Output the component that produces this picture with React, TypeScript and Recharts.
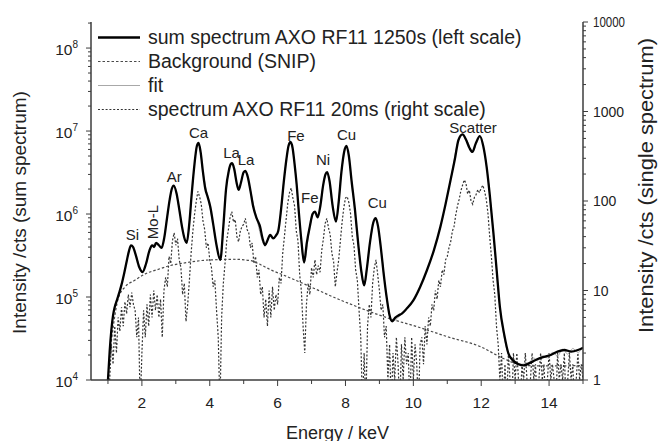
import React from 'react';
import { LineChart, Line, XAxis, YAxis, ReferenceDot } from 'recharts';

const FONT = '"Liberation Sans", Arial, Helvetica, sans-serif';
const INK = '#222';
const AX = '#3c3c3c';

// ---- sum spectrum AXO RF11 1250s (left scale) ----
const SUM_E = [1.00,1.05,1.10,1.15,1.20,1.27,1.33,1.40,1.48,1.56,1.62,1.68,1.74,1.82,1.92,
  2.02,2.12,2.22,2.30,2.36,2.42,2.50,2.58,2.66,2.74,2.82,2.88,2.94,
  3.02,3.10,3.18,3.26,3.32,3.40,3.47,3.55,3.62,3.67,3.73,3.80,3.87,3.94,
  4.02,4.10,4.20,4.31,4.40,4.48,4.56,4.62,4.66,4.72,4.79,4.85,4.92,
  5.00,5.05,5.12,5.20,5.28,5.38,5.48,5.56,5.63,5.70,5.78,5.87,5.95,
  6.02,6.10,6.18,6.26,6.32,6.38,6.44,6.50,6.56,6.63,6.70,6.78,6.86,6.95,
  7.03,7.10,7.18,7.26,7.34,7.41,7.46,7.53,7.62,7.72,7.80,7.88,7.96,
  8.03,8.10,8.18,8.28,8.38,8.47,8.55,8.63,8.72,8.82,8.89,8.96,
  9.04,9.12,9.22,9.30,9.38,9.46,9.56,9.66,9.80,
  10.00,10.20,10.40,10.60,10.80,10.95,
  11.10,11.22,11.33,11.45,11.55,11.65,11.74,11.84,11.96,
  12.06,12.16,12.26,12.36,12.46,12.55,12.68,12.80,12.95,
  13.10,13.25,13.45,13.65,13.85,14.05,14.25,14.45,14.65,14.85,15.00];
const SUM_V = [1.0e4,2.2e4,4.0e4,6.0e4,7.6e4,9.3e4,1.12e5,1.41e5,1.95e5,2.8e5,3.6e5,4.2e5,4.0e5,3.2e5,2.3e5,
  2.0e5,2.5e5,3.6e5,4.2e5,4.0e5,4.5e5,4.2e5,3.9e5,5.2e5,8.9e5,1.5e6,2.0e6,2.2e6,
  1.78e6,1.15e6,7.1e5,5.0e5,4.5e5,7.9e5,1.78e6,4.0e6,6.6e6,7.2e6,5.6e6,3.2e6,2.0e6,1.6e6,
  1.2e6,7.6e5,4.2e5,2.8e5,7.1e5,2.0e6,3.3e6,4.0e6,4.1e6,3.5e6,2.4e6,1.95e6,2.4e6,
  3.2e6,3.3e6,2.8e6,1.9e6,1.23e6,8.9e5,7.1e5,5.0e5,4.2e5,4.8e5,5.6e5,5.1e5,5.5e5,
  6.3e5,1.12e6,2.4e6,4.6e6,6.6e6,7.4e6,6.3e6,4.0e6,2.3e6,1.0e6,4.8e5,2.6e5,4.5e5,7.1e5,
  1.0e6,1.07e6,9.1e5,1.26e6,2.2e6,3.0e6,3.2e6,2.5e6,1.26e6,8.1e5,1.4e6,3.2e6,5.6e6,
  6.6e6,5.0e6,2.5e6,1.12e6,4.2e5,2.0e5,1.38e5,2.2e5,4.5e5,7.9e5,8.9e5,7.1e5,
  4.0e5,2.0e5,9.5e4,6.0e4,5.1e4,5.6e4,6.0e4,6.3e4,7.2e4,
  9.1e4,1.32e5,2.1e5,3.6e5,7.1e5,1.32e6,
  2.6e6,4.5e6,7.8e6,9.1e6,7.9e6,6.3e6,5.6e6,7.1e6,8.7e6,
  6.6e6,3.7e6,1.58e6,5.9e5,2.0e5,7.6e4,3.5e4,2.1e4,1.7e4,
  1.55e4,1.5e4,1.62e4,1.78e4,1.9e4,2.0e4,2.2e4,2.3e4,2.2e4,2.3e4,2.45e4];

// ---- fit (left scale) ----
const FIT_E = [1.00,1.10,1.20,1.33,1.48,1.62,1.68,1.82,2.02,2.22,2.42,2.58,2.74,2.88,2.94,
  3.10,3.26,3.32,3.47,3.62,3.67,3.80,3.94,4.10,4.31,4.48,4.62,4.66,4.79,4.85,
  5.00,5.05,5.20,5.38,5.63,5.78,5.87,6.02,6.18,6.32,6.38,6.50,6.63,6.78,6.95,
  7.10,7.18,7.34,7.46,7.62,7.72,7.88,8.03,8.18,8.38,8.55,8.72,8.89,
  9.04,9.22,9.38,9.66,10.00,10.40,10.80,11.10,11.33,11.45,11.60,11.74,11.96,
  12.16,12.36,12.55,12.80,13.00,13.20,13.40,13.55,13.65,13.80,13.95,
  14.10,14.25,14.40,14.55,14.70,14.85,15.00];
const FIT_V = [1.0e4,4.0e4,7.6e4,1.12e5,1.95e5,3.6e5,4.2e5,3.2e5,2.0e5,3.6e5,4.5e5,3.9e5,8.9e5,2.0e6,2.2e6,
  1.15e6,5.0e5,4.5e5,1.78e6,6.6e6,7.2e6,3.2e6,1.6e6,7.6e5,2.8e5,2.0e6,4.0e6,4.1e6,2.4e6,1.95e6,
  3.2e6,3.3e6,1.9e6,8.9e5,4.2e5,5.6e5,5.1e5,6.3e5,2.4e6,6.6e6,7.4e6,4.0e6,1.0e6,2.6e5,7.1e5,
  1.07e6,9.1e5,2.2e6,3.2e6,1.26e6,8.1e5,3.2e6,6.6e6,2.5e6,4.2e5,1.38e5,4.5e5,8.9e5,
  4.0e5,9.5e4,5.1e4,6.3e4,9.1e4,2.1e5,7.1e5,2.6e6,7.8e6,9.1e6,7.4e6,5.6e6,8.7e6,
  3.7e6,5.9e5,7.6e4,2.1e4,1.68e4,1.55e4,1.6e4,1.85e4,1.7e4,1.95e4,1.85e4,
  2.15e4,1.95e4,2.35e4,2.05e4,2.4e4,2.15e4,2.5e4];

// ---- Background (SNIP) (left scale) ----
const BG_E = [1.05,1.30,1.50,1.78,2.10,2.46,2.85,3.25,3.75,4.23,4.70,5.19,5.50,5.78,6.20,6.66,
  7.15,7.64,8.12,8.62,9.30,10.10,11.03,12.00,12.60,13.10,13.60,14.30,15.00];
const BG_V = [2.0e4,9.5e4,1.32e5,1.58e5,1.9e5,2.14e5,2.4e5,2.57e5,2.75e5,2.82e5,2.85e5,2.75e5,2.45e5,
  2.14e5,1.82e5,1.51e5,1.23e5,1.0e5,8.3e4,6.9e4,5.5e4,4.4e4,3.3e4,2.5e4,1.86e4,1.55e4,1.48e4,1.48e4,1.5e4];

// ---- spectrum AXO RF11 20ms (right scale), channels of 0.05 keV from 1.00 keV ----
// (0.5 = empty channel, drawn below the axis floor)
const SINGLE_START_KEV = 1.0;
const SINGLE_CHANNEL_KEV = 0.05;
const SINGLE_V = [
  0.5, 1, 2.5, 1.5, 4, 2, 5, 3.5, 6.5, 4, 7.5, 5.5, 9, 6.5, 9.5, 7, 6, 3, 5, 0.5,
  2, 6, 3, 7, 4, 9, 5, 10, 6, 9, 5, 8, 3, 10, 14, 11, 24, 20, 36, 44,
  32, 38, 22, 18, 9, 12, 4.5, 7, 13, 26, 45, 70, 98, 128, 112, 92, 60, 48, 30, 34,
  22, 18, 11, 13, 6, 3, 0.5, 5, 12, 20, 36, 48, 66, 76, 58, 62, 40, 35, 46, 52,
  55, 64, 48, 44, 30, 34, 20, 24, 14, 17, 9, 11, 5, 8, 4, 10, 5, 11, 6, 9,
  7, 14, 12, 26, 40, 62, 95, 124, 140, 108, 88, 46, 36, 15, 10, 4, 2, 7, 12, 9,
  18, 14, 22, 15, 19, 16, 28, 38, 56, 64, 50, 42, 26, 21, 11, 16, 22, 36, 58, 84,
  108, 112, 96, 72, 40, 32, 17, 13, 6, 3, 0.5, 2, 0.5, 4, 7, 5, 12, 18, 22, 15,
  10, 6, 7, 3, 4, 1, 2.5, 0.5, 2, 1, 3, 1.5, 0.5, 2.5, 1, 3, 1.5, 2, 0.5, 3,
  1, 2.5, 1.5, 0.5, 2.5, 3, 1.5, 4, 2.5, 5, 4, 7, 6, 10, 8, 13, 11, 17, 15, 22,
  24, 30, 35, 46, 52, 70, 88, 104, 130, 150, 172, 158, 120, 132, 100, 92, 110, 118, 134, 124,
  140, 150, 128, 104, 72, 40, 24, 13, 9, 4, 2.5, 1, 2, 0.5, 1.5, 0.5, 2, 1, 0.5, 2,
  1, 2, 1, 0.5, 1.5, 1, 2, 1, 0.5, 1, 2, 1, 1.5, 0.5, 1, 2, 1, 1.5, 0.5, 1,
  2, 1, 1.5, 1, 0.5, 2, 1, 1.5, 1, 2, 0.5, 1, 2, 1, 1.5, 0.5, 1, 2, 1, 1.5,
  1,
];

// ---- peak annotations (energy keV, left-scale intensity) ----
const PEAK_TEXT = ['Si', 'Mo-L', 'Ar', 'Ca', 'La', 'La', 'Fe', 'Fe', 'Ni', 'Cu', 'Cu', 'Scatter'];
const PEAK_E = [1.72, 2.30, 2.95, 3.67, 4.64, 5.07, 6.54, 6.95, 7.34, 8.03, 8.94, 11.76];
const PEAK_V = [5.74e5, 8.0e5, 2.87e6, 9.73e6, 5.58e6, 4.48e6, 8.95e6, 1.56e6, 4.6e6, 9.2e6, 1.36e6, 1.10e7];
const PEAK_VERTICAL = ['Mo-L'];

// ---- axes ----
const X_DOMAIN = [0.5, 15];
const X_TICKS = [1, 2, 3, 4, 5, 6, 7, 8, 9, 10, 11, 12, 13, 14, 15];
const LEFT_DOMAIN = [1e4, 2.06e8];
const LEFT_TICKS = [1e4, 2e4, 3e4, 4e4, 5e4, 6e4, 7e4, 8e4, 9e4,
  1e5, 2e5, 3e5, 4e5, 5e5, 6e5, 7e5, 8e5, 9e5,
  1e6, 2e6, 3e6, 4e6, 5e6, 6e6, 7e6, 8e6, 9e6,
  1e7, 2e7, 3e7, 4e7, 5e7, 6e7, 7e7, 8e7, 9e7, 1e8, 2e8];
const RIGHT_DOMAIN = [1, 10000];
const RIGHT_TICKS = [1, 2, 3, 4, 5, 6, 7, 8, 9, 10, 20, 30, 40, 50, 60, 70, 80, 90,
  100, 200, 300, 400, 500, 600, 700, 800, 900, 1000, 2000, 3000, 4000, 5000, 6000, 7000, 8000, 9000, 10000];

const SERIES = {
  sum: { name: 'sum spectrum AXO RF11 1250s (left scale)', stroke: '#000', width: 2.3, dash: undefined as string | undefined },
  bg: { name: 'Background (SNIP)', stroke: '#4a4a4a', width: 1.2, dash: '2.5 2' },
  fit: { name: 'fit', stroke: '#a8a8a8', width: 1, dash: undefined as string | undefined },
  single: { name: 'spectrum AXO RF11 20ms (right scale)', stroke: '#333', width: 1.2, dash: '2 1.8' },
};
const LEGEND_ORDER: (keyof typeof SERIES)[] = ['sum', 'bg', 'fit', 'single'];

const sumData = SUM_E.map((e, i) => ({ e, v: SUM_V[i] }));
const fitData = FIT_E.map((e, i) => ({ e, v: FIT_V[i] }));
const bgData = BG_E.map((e, i) => ({ e, v: BG_V[i] }));
const singleData = SINGLE_V.map((v, i) => ({ e: +(SINGLE_START_KEV + i * SINGLE_CHANNEL_KEV).toFixed(2), v }));

const isDecade = (v: number) => Math.abs(Math.log10(v) - Math.round(Math.log10(v))) < 1e-6;

const LeftTick = (p: any) => {
  const { x, y, payload } = p;
  const v = payload.value;
  const major = isDecade(v);
  return (
    <g>
      <line x1={x - (major ? 5 : 3)} x2={x} y1={y} y2={y} stroke={AX} strokeWidth={1} />
      {major && (
        <text x={x - 13} y={y + 6.5} textAnchor="end" fontSize={15.5} fill={INK} fontFamily={FONT}>
          10<tspan dy={-7} fontSize={10}>{Math.round(Math.log10(v))}</tspan>
        </text>
      )}
    </g>
  );
};

const RightTick = (p: any) => {
  const { x, y, payload } = p;
  const v = payload.value;
  const major = isDecade(v);
  const label = String(v);
  return (
    <g>
      <line x1={x} x2={x + (major ? 5 : 3)} y1={y} y2={y} stroke={AX} strokeWidth={1} />
      {major && (
        <text x={x + 10} y={y + 5} textAnchor="start" fontSize={14} fill={INK} fontFamily={FONT}
          {...(label.length >= 5 ? { textLength: 32, lengthAdjust: 'spacingAndGlyphs' } : {})}>
          {label}
        </text>
      )}
    </g>
  );
};

const BottomTick = (p: any) => {
  const { x, y, payload } = p;
  const v = payload.value;
  const major = v % 2 === 0;
  return (
    <g>
      <line x1={x} x2={x} y1={y} y2={y + (major ? 6 : 4)} stroke={AX} strokeWidth={1} />
      {major && (
        <text x={x} y={y + 28} textAnchor="middle" fontSize={15.5} fill={INK} fontFamily={FONT}>{v}</text>
      )}
    </g>
  );
};

const TopTick = (p: any) => {
  const { x, y } = p;
  return <line x1={x} x2={x} y1={y} y2={y + 5} stroke={AX} strokeWidth={1} />;
};

const PeakShape = (text: string) => (p: any) => {
  const { cx, cy } = p;
  if (cx == null || cy == null) return <g />;
  const vertical = PEAK_VERTICAL.includes(text);
  return (
    <text x={cx} y={cy} textAnchor="middle" dominantBaseline="central" fontSize={15} fill={INK}
      fontFamily={FONT} transform={vertical ? `rotate(-90, ${cx}, ${cy})` : undefined}>
      {text}
    </text>
  );
};

export default function App() {
  return (
    <div style={{ position: 'absolute', left: 0, top: 0, width: 661, height: 441, background: '#fff' }}>
      <LineChart width={661} height={441} margin={{ top: 22, right: 0, bottom: 0, left: 0 }}>
        <XAxis xAxisId="b" type="number" dataKey="e" domain={X_DOMAIN} allowDataOverflow ticks={X_TICKS}
          interval={0} height={61} tickLine={false} tickSize={0} tickMargin={0}
          axisLine={{ stroke: AX, strokeWidth: 1.5 }} tick={(p: any) => <BottomTick {...p} />} />
        <XAxis xAxisId="t" orientation="top" type="number" dataKey="e" domain={X_DOMAIN} allowDataOverflow
          ticks={X_TICKS} interval={0} height={0} tickLine={false} tickSize={0} tickMargin={0}
          axisLine={{ stroke: AX, strokeWidth: 1.5 }} tick={(p: any) => <TopTick {...p} />} />
        <YAxis yAxisId="l" scale="log" type="number" domain={LEFT_DOMAIN} allowDataOverflow ticks={LEFT_TICKS}
          interval={0} width={91} tickLine={false} tickSize={0} tickMargin={0}
          axisLine={{ stroke: AX, strokeWidth: 1.5 }} tick={(p: any) => <LeftTick {...p} />} />
        <YAxis yAxisId="r" orientation="right" scale="log" type="number" domain={RIGHT_DOMAIN} allowDataOverflow
          ticks={RIGHT_TICKS} interval={0} width={78} tickLine={false} tickSize={0} tickMargin={0}
          axisLine={{ stroke: AX, strokeWidth: 1.5 }} tick={(p: any) => <RightTick {...p} />} />

        <Line xAxisId="b" yAxisId="r" data={singleData} dataKey="v" type="linear" stroke={SERIES.single.stroke}
          strokeWidth={SERIES.single.width} strokeDasharray={SERIES.single.dash} dot={false} activeDot={false}
          isAnimationActive={false} />
        <Line xAxisId="b" yAxisId="l" data={bgData} dataKey="v" type="monotone" stroke={SERIES.bg.stroke}
          strokeWidth={SERIES.bg.width} strokeDasharray={SERIES.bg.dash} dot={false} activeDot={false}
          isAnimationActive={false} />
        <Line xAxisId="b" yAxisId="l" data={fitData} dataKey="v" type="monotone" stroke={SERIES.fit.stroke}
          strokeWidth={SERIES.fit.width} dot={false} activeDot={false} isAnimationActive={false} />
        <Line xAxisId="b" yAxisId="l" data={sumData} dataKey="v" type="monotone" stroke={SERIES.sum.stroke}
          strokeWidth={SERIES.sum.width} dot={false} activeDot={false} isAnimationActive={false} />

        {PEAK_TEXT.map((t, i) => (
          <ReferenceDot key={i} xAxisId="b" yAxisId="l" x={PEAK_E[i]} y={PEAK_V[i]} r={1}
            fill="none" stroke="none" shape={PeakShape(t)} />
        ))}
      </LineChart>

      <svg width={661} height={441} style={{ position: 'absolute', left: 0, top: 0, pointerEvents: 'none' }}>
        {LEGEND_ORDER.map((k, i) => {
          const s = SERIES[k];
          const base = 43.5 + i * 24;
          return (
            <g key={k}>
              <line x1={98} x2={140} y1={base - 6} y2={base - 6} stroke={s.stroke} strokeWidth={s.width}
                strokeDasharray={s.dash} />
              <text x={148} y={base} fontSize={19.5} fill={INK} fontFamily={FONT}>{s.name}</text>
            </g>
          );
        })}
        <text transform="translate(26,212.5) rotate(-90)" textAnchor="middle" fontSize={19} fill={INK}
          fontFamily={FONT}>Intensity /cts (sum spectrum)</text>
        <text transform="translate(653,185.5) rotate(-90)" textAnchor="middle" fontSize={19.5} fill={INK}
          fontFamily={FONT} textLength={295} lengthAdjust="spacingAndGlyphs">Intensity /cts (single spectrum)</text>
        <text x={337.5} y={438.5} textAnchor="middle" fontSize={18} fill={INK} fontFamily={FONT}>Energy / keV</text>
      </svg>
    </div>
  );
}
